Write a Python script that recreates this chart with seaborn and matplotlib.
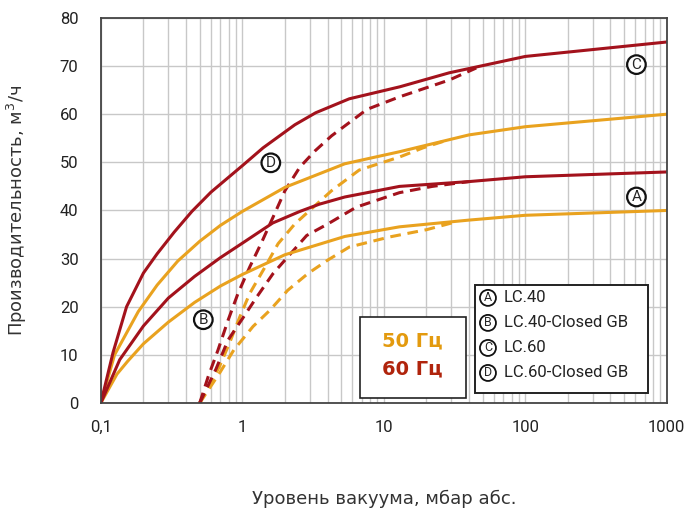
import matplotlib
matplotlib.use("Agg")
import matplotlib.pyplot as plt
from matplotlib.ticker import FixedLocator, FixedFormatter, LogLocator, NullFormatter
import seaborn as sns
import pandas as pd

# --- data (x: mbar abs, y: m3/h) ---
# LC.60, 60 Hz
x_c = [0.1, 0.122, 0.152, 0.2, 0.25, 0.33, 0.44, 0.6, 0.8, 1.0, 1.4, 2.35, 3.3, 5.7, 13, 29, 100, 1000]
y_c = [0, 10.5, 20, 27, 31, 35.5, 39.8, 43.8, 46.9, 49.3, 53, 57.8, 60.3, 63.2, 65.7, 68.6, 72, 75]
# LC.60, 50 Hz
x_c50 = [0.1, 0.125, 0.184, 0.25, 0.35, 0.5, 0.7, 1.0, 2.0, 5.3, 12.9, 40, 100, 1000]
y_c50 = [0, 10, 19, 24.5, 29.5, 33.6, 36.9, 39.8, 44.8, 49.7, 52.2, 55.7, 57.4, 60]
# LC.40, 60 Hz
x_a = [0.1, 0.136, 0.2, 0.3, 0.46, 0.7, 1.0, 1.64, 2.55, 3.5, 5.3, 12.9, 40, 100, 1000]
y_a = [0, 9, 16, 21.8, 26.3, 30.2, 33.2, 37.4, 39.8, 41.3, 42.8, 45, 46, 47, 48]
# LC.40, 50 Hz
x_a50 = [0.1, 0.13, 0.155, 0.2, 0.3, 0.46, 0.7, 1.0, 2.0, 5.3, 12.9, 40, 100, 1000]
y_a50 = [0, 6, 8.7, 12.3, 16.8, 20.9, 24.3, 26.7, 30.8, 34.6, 36.6, 38, 39, 40]

# LC.60-Closed GB, 60 Hz
x_d = [0.5, 0.574, 0.673, 0.793, 0.933, 1.13, 1.37, 1.69, 2.0, 2.55, 3.27, 4.27, 7.6, 12.9, 29, 45]
y_d = [0, 5.5, 11, 17.2, 22.8, 28.3, 33.4, 39.3, 44.1, 49, 52.4, 55.5, 61, 63.6, 67.1, 69.6]
# LC.60-Closed GB, 50 Hz
x_d50 = [0.5, 0.69, 0.81, 0.96, 1.13, 1.45, 1.79, 2.35, 4.27, 6.7, 12.9, 18.9, 28]
y_d50 = [0, 7.6, 12.4, 17.9, 22.8, 28.3, 33.1, 37.2, 44.1, 48.4, 51.1, 53, 54.6]
# LC.40-Closed GB, 60 Hz
x_b = [0.5, 0.65, 0.793, 0.985, 1.27, 1.65, 2.85, 4.02, 6.4, 12.9, 22, 40]
y_b = [0, 7, 13.1, 17.2, 22.1, 26.9, 34.8, 37.2, 40.7, 43.7, 45, 46]
# LC.40-Closed GB, 50 Hz
x_b50 = [0.5, 0.7, 0.87, 1.19, 1.57, 2.09, 2.91, 4.02, 5.7, 11, 20, 32]
y_b50 = [0, 6.5, 11, 15.9, 19.3, 23.4, 26.9, 29.7, 32.4, 34.5, 36, 37.6]

x_ticks = [0.1, 1, 10, 100, 1000]
x_tick_labels = ["0,1", "1", "10", "100", "1000"]
y_ticks = [0, 10, 20, 30, 40, 50, 60, 70, 80]

legend_keys = ["A", "B", "C", "D"]
legend_names = ["LC.40", "LC.40-Closed GB", "LC.60", "LC.60-Closed GB"]

RED = "#a3121c"
ORANGE = "#e9a21f"

sns.set_theme(style="white")
plt.rcParams["font.family"] = ["Roboto", "DejaVu Sans"]

fig = plt.figure(figsize=(6.86, 5.08), dpi=100)
ax = fig.add_axes([0.147, 0.2067, 0.825, 0.758])

curves = [
    (x_b50, y_b50, ORANGE, True), (x_d50, y_d50, ORANGE, True),
    (x_b, y_b, RED, True), (x_d, y_d, RED, True),
    (x_a50, y_a50, ORANGE, False), (x_c50, y_c50, ORANGE, False),
    (x_a, y_a, RED, False), (x_c, y_c, RED, False),
]
for xs, ys, col, dashed in curves:
    df = pd.DataFrame({"x": xs, "y": ys})
    sns.lineplot(data=df, x="x", y="y", ax=ax, color=col, lw=2.2,
                 estimator=None, sort=False)
    if dashed:
        ax.lines[-1].set_dashes((3.5, 2.2))

ax.set_xscale("log")
ax.set_xlim(0.1, 1000)
ax.set_ylim(0, 80)
ax.xaxis.set_major_locator(FixedLocator(x_ticks))
ax.xaxis.set_major_formatter(FixedFormatter(x_tick_labels))
ax.xaxis.set_minor_locator(LogLocator(base=10, subs=range(2, 10)))
ax.xaxis.set_minor_formatter(NullFormatter())
ax.set_yticks(y_ticks)
ax.tick_params(axis="y", which="both", length=0, labelsize=12, pad=16,
               colors="#222222")
ax.tick_params(axis="x", which="both", length=0, labelsize=12, pad=12,
               colors="#222222")
ax.grid(True, which="major", color="#c8c8c8", lw=1.0)
ax.grid(True, which="minor", axis="x", color="#c8c8c8", lw=1.0)
for sp in ax.spines.values():
    sp.set_color("#444444")
    sp.set_linewidth(1.3)

ax.set_xlabel("Уровень вакуума, мбар абс.", family="DejaVu Sans",
              fontsize=13, labelpad=40, color="#333333")
ax.set_ylabel("Производительность, м$^3$/ч", family="DejaVu Sans",
              fontsize=13, labelpad=22, color="#333333")

circ = dict(boxstyle="circle,pad=0.15", fc="white", ec="#111111", lw=1.6)
ax.text(610, 42.8, "A", ha="center", va="center", fontsize=11, bbox=circ)
ax.text(610, 70.3, "C", ha="center", va="center", fontsize=11, bbox=circ)
ax.text(1.59, 49.9, "D", ha="center", va="center", fontsize=11, bbox=circ)
ax.text(0.53, 17.3, "B", ha="center", va="center", fontsize=11, bbox=circ)

# frequency box
ax.add_patch(plt.Rectangle((0.458, 0.013), 0.187, 0.21, transform=ax.transAxes,
                           fc="white", ec="#222222", lw=1.2, zorder=5))
ax.text(0.551, 0.162, "50 Гц", transform=ax.transAxes, ha="center", va="center",
        fontsize=14, fontweight="bold", color="#e39a0e", family="DejaVu Sans", zorder=6)
ax.text(0.551, 0.088, "60 Гц", transform=ax.transAxes, ha="center", va="center",
        fontsize=14, fontweight="bold", color="#b0240c", family="DejaVu Sans", zorder=6)

# legend box
ax.add_patch(plt.Rectangle((0.661, 0.026), 0.305, 0.28, transform=ax.transAxes,
                           fc="white", ec="#222222", lw=1.4, zorder=5))
small = dict(boxstyle="circle,pad=0.12", fc="white", ec="#111111", lw=1.3)
for i, (k, name) in enumerate(zip(legend_keys, legend_names)):
    yy = 0.273 - i * 0.065
    ax.text(0.684, yy, k, transform=ax.transAxes, ha="center", va="center",
            fontsize=9, bbox=small, zorder=6)
    ax.text(0.712, yy, name, transform=ax.transAxes, ha="left", va="center",
            fontsize=12, color="#222222", zorder=6)

fig.savefig("out.png", dpi=100)
